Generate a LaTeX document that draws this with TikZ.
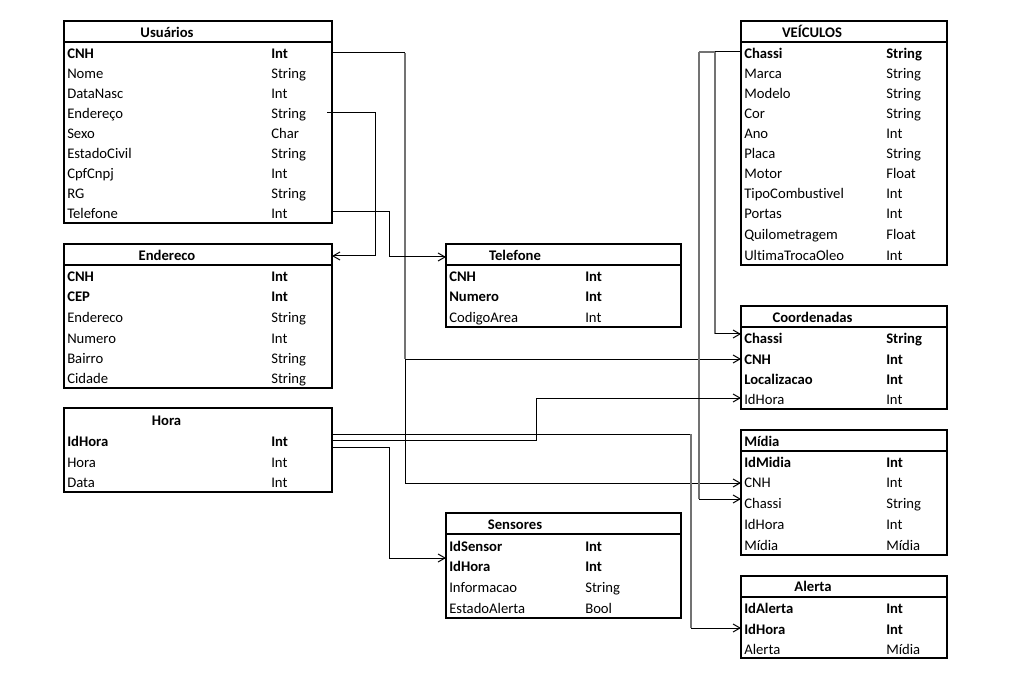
\documentclass[tikz,border=0pt]{standalone}
\usepackage{fontspec}
\setmainfont{Carlito}[Ligatures=NoCommon]
\usetikzlibrary{arrows.meta}
\newcommand{\erdrow}[7]{%
  \node[#1] (#2n) at (#3,#5) {#6};
  \node[#1] (#2t) at (#4,#5) {#7};}
\begin{document}
\begin{tikzpicture}[x=0.75pt,y=-0.75pt,
  tbl/.style={draw, line width=1.6pt, inner sep=0pt, outer sep=0pt, anchor=north west, minimum width=#1},
  hdr/.style={line width=1.6pt},
  fld/.style={anchor=base west, inner sep=0pt, font=\fontsize{11}{13}\selectfont},
  keyf/.style={anchor=base west, inner sep=0pt, font=\fontsize{11}{13}\selectfont\bfseries},
  ttl/.style={anchor=base, inner sep=0pt, font=\fontsize{11}{13}\selectfont\bfseries},
  conn/.style={line width=0.75pt},
  gconn/.style={line width=0.8pt, draw=black!55},
  arr/.style={-{Straight Barb[length=5.25pt,width=6pt]}}
]
\fill[white] (0,0) rectangle (1012,680);
\useasboundingbox (0,0) rectangle (1012,680);

% ---------- boxes ----------
\node[tbl=201pt, minimum height=151.5pt] (usu) at (64,21) {};
\node[tbl=201pt, minimum height=108pt] (end) at (64,244) {};
\node[tbl=201pt, minimum height=63pt] (hor) at (64,408) {};
\node[tbl=176.25pt, minimum height=62.25pt] (tel) at (446,244) {};
\node[tbl=176.25pt, minimum height=78.75pt] (sen) at (446,513) {};
\node[tbl=154.5pt, minimum height=183pt] (vei) at (741,21) {};
\node[tbl=154.5pt, minimum height=77.25pt] (coo) at (741,306) {};
\node[tbl=154.5pt, minimum height=93.75pt] (mid) at (741,430) {};
\node[tbl=154.5pt, minimum height=61.5pt] (ale) at (741,576) {};

% header lines
\draw[hdr] (64,42) -- (332,42);
\draw[hdr] (64,265) -- (332,265);
\draw[hdr] (446,265) -- (681,265);
\draw[hdr] (446,534) -- (681,534);
\draw[hdr] (741,42) -- (947,42);
\draw[hdr] (741,327) -- (947,327);
\draw[hdr] (741,451) -- (947,451);
\draw[hdr] (741,597) -- (947,597);

% ---------- Usuarios ----------
\node[ttl] (usuT) at (167,37.7) {Usuários};
\erdrow{keyf}{u1}{67}{271}{58.3}{CNH}{Int}
\erdrow{fld}{u2}{67}{271}{78.3}{Nome}{String}
\erdrow{fld}{u3}{67}{271}{98.3}{DataNasc}{Int}
\erdrow{fld}{u4}{67}{271}{118.3}{Endereço}{String}
\erdrow{fld}{u5}{67}{271}{138.3}{Sexo}{Char}
\erdrow{fld}{u6}{67}{271}{158.3}{EstadoCivil}{String}
\erdrow{fld}{u7}{67}{271}{178.3}{CpfCnpj}{Int}
\erdrow{fld}{u8}{67}{271}{198.3}{RG}{String}
\erdrow{fld}{u9}{67}{271}{218.3}{Telefone}{Int}

% ---------- Endereco ----------
\node[ttl] (endT) at (167,260.7) {Endereco};
\erdrow{keyf}{e1}{67}{271}{281.7}{CNH}{Int}
\erdrow{keyf}{e2}{67}{271}{301.7}{CEP}{Int}
\erdrow{fld}{e3}{67}{271}{322.3}{Endereco}{String}
\erdrow{fld}{e4}{67}{271}{343.3}{Numero}{Int}
\erdrow{fld}{e5}{67}{271}{363.3}{Bairro}{String}
\erdrow{fld}{e6}{67}{271}{383.3}{Cidade}{String}

% ---------- Hora ----------
\node[ttl] (horT) at (166.5,425.7) {Hora};
\erdrow{keyf}{h1}{67}{271}{446.7}{IdHora}{Int}
\erdrow{fld}{h2}{67}{271}{467.7}{Hora}{Int}
\erdrow{fld}{h3}{67}{271}{487.3}{Data}{Int}

% ---------- Telefone ----------
\node[ttl] (telT) at (515,260.3) {Telefone};
\erdrow{keyf}{t1}{449}{585}{281.7}{CNH}{Int}
\erdrow{keyf}{t2}{449}{585}{301.7}{Numero}{Int}
\erdrow{fld}{t3}{449}{585}{322.7}{CodigoArea}{Int}

% ---------- Sensores ----------
\node[ttl] (senT) at (515,529.7) {Sensores};
\erdrow{keyf}{s1}{449}{585}{551}{IdSensor}{Int}
\erdrow{keyf}{s2}{449}{585}{571.7}{IdHora}{Int}
\erdrow{fld}{s3}{449}{585}{592.3}{Informacao}{String}
\erdrow{fld}{s4}{449}{585}{613.7}{EstadoAlerta}{Bool}

% ---------- Veiculos ----------
\node[ttl] (veiT) at (812,37.7) {VEÍCULOS};
\erdrow{keyf}{v1}{744}{886}{58.3}{Chassi}{String}
\erdrow{fld}{v2}{744}{886}{78.3}{Marca}{String}
\erdrow{fld}{v3}{744}{886}{98.3}{Modelo}{String}
\erdrow{fld}{v4}{744}{886}{118.3}{Cor}{String}
\erdrow{fld}{v5}{744}{886}{138.3}{Ano}{Int}
\erdrow{fld}{v6}{744}{886}{158.3}{Placa}{String}
\erdrow{fld}{v7}{744}{886}{178.3}{Motor}{Float}
\erdrow{fld}{v8}{744}{886}{198.3}{TipoCombustivel}{Int}
\erdrow{fld}{v9}{744}{886}{218.3}{Portas}{Int}
\erdrow{fld}{v10}{744}{886}{239.3}{Quilometragem}{Float}
\erdrow{fld}{v11}{744}{886}{260.7}{UltimaTrocaOleo}{Int}

% ---------- Coordenadas ----------
\node[ttl] (cooT) at (812.5,322.3) {Coordenadas};
\erdrow{keyf}{c1}{744}{886}{343.7}{Chassi}{String}
\erdrow{keyf}{c2}{744}{886}{364}{CNH}{Int}
\erdrow{keyf}{c3}{744}{886}{384.3}{Localizacao}{Int}
\erdrow{fld}{c4}{744}{886}{404.3}{IdHora}{Int}

% ---------- Midia ----------
\node[keyf] (midT) at (744,446.3) {Mídia};
\erdrow{keyf}{m1}{744}{886}{467.7}{IdMidia}{Int}
\erdrow{fld}{m2}{744}{886}{487.7}{CNH}{Int}
\erdrow{fld}{m3}{744}{886}{508.3}{Chassi}{String}
\erdrow{fld}{m4}{744}{886}{529.3}{IdHora}{Int}
\erdrow{fld}{m5}{744}{886}{550.3}{Mídia}{Mídia}

% ---------- Alerta ----------
\node[ttl] (aleT) at (813,591.7) {Alerta};
\erdrow{keyf}{a1}{744}{886}{613.3}{IdAlerta}{Int}
\erdrow{keyf}{a2}{744}{886}{634.3}{IdHora}{Int}
\erdrow{fld}{a3}{744}{886}{654.3}{Alerta}{Mídia}

% ---------- connectors ----------
% Usuarios.CNH -> Coordenadas.CNH, Midia.CNH
\coordinate (k1) at (405,53);
\coordinate (k2) at (405,359);
\coordinate (k3) at (405,483);
\draw[conn] (usu.east |- k1) -- (k1);
\draw[gconn] (k1) -- (k2);
\draw[conn,arr] (k2) -- (coo.west |- k2);
\draw[conn] (k2) -- (k3);
\draw[conn,arr] (k3) -- (mid.west |- k3);

% Usuarios.Endereco -> Endereco
\coordinate (d1) at (327,113);
\coordinate (d2) at (375,113);
\coordinate (d3) at (375,256);
\draw[conn,arr] (d1) -- (d2) -- (d3) -- (end.east |- d3);

% Usuarios.Telefone -> Telefone
\coordinate (f1) at (389,212);
\coordinate (f2) at (389,257);
\draw[conn,arr] (usu.east |- f1) -- (f1) -- (f2) -- (tel.west |- f2);

% Veiculos.Chassi -> Coordenadas.Chassi, Midia.Chassi
\coordinate (w1) at (715,52);
\coordinate (w2) at (715,334);
\coordinate (w3) at (699,52);
\coordinate (w4) at (699,499);
\draw[conn] (vei.west |- w1) -- (w1);
\draw[gconn] (w1) -- (w3);
\draw[gconn] (w1) -- (w2);
\draw[conn,arr] (w2) -- (coo.west |- w2);
\draw[gconn] (w3) -- (w4);
\draw[conn,arr] (w4) -- (mid.west |- w4);

% Hora.IdHora -> Alerta, Coordenadas, Sensores
\coordinate (g1) at (691,434);
\coordinate (g2) at (691,628);
\draw[conn] (hor.east |- g1) -- (g1);
\draw[gconn] (g1) -- (g2);
\draw[conn,arr] (g2) -- (ale.west |- g2);
\coordinate (g3) at (536,440);
\coordinate (g4) at (536,398);
\draw[conn,arr] (hor.east |- g3) -- (g3) -- (g4) -- (coo.west |- g4);
\coordinate (g5) at (389,447);
\coordinate (g6) at (389,558);
\draw[conn,arr] (hor.east |- g5) -- (g5) -- (g6) -- (sen.west |- g6);
\end{tikzpicture}
\end{document}
